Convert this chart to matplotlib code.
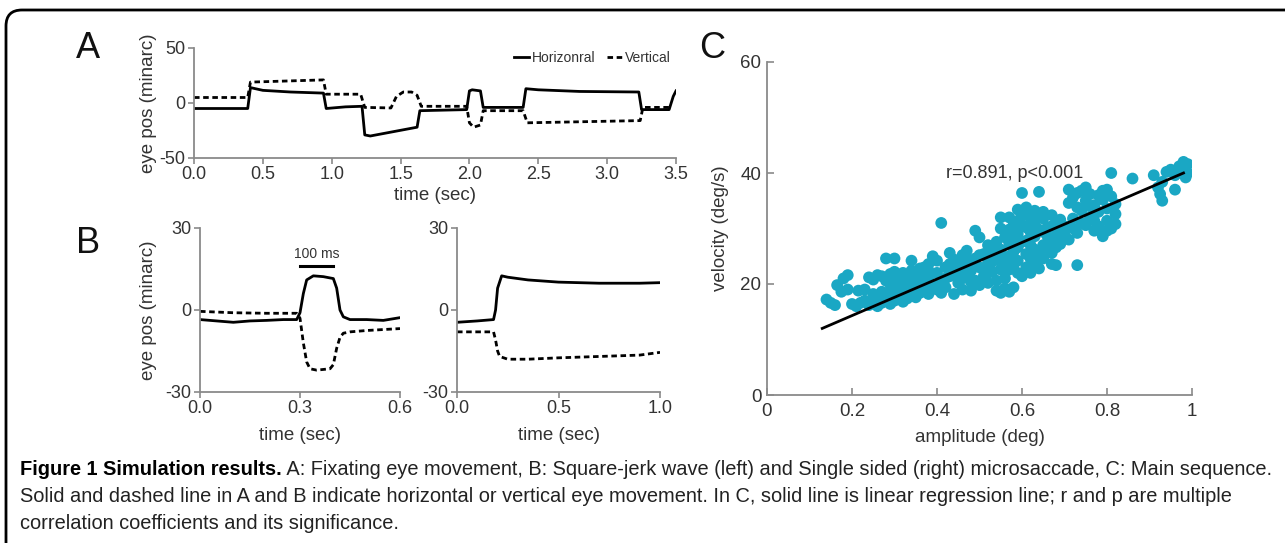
import matplotlib
matplotlib.use("Agg")
import matplotlib.pyplot as plt
from matplotlib.path import Path
from matplotlib.patches import PathPatch

# ---------------- data ----------------
# Panel A : fixating eye movement
a_h_t = [0, 0.39, 0.41, 0.50, 0.70, 0.94, 0.96, 1.10, 1.22, 1.24, 1.28, 1.45, 1.62, 1.64, 1.98,
         2.00, 2.02, 2.08, 2.10, 2.39, 2.41, 2.50, 2.80, 3.23, 3.25, 3.45, 3.48, 3.50]
a_h_v = [-5, -5, 14, 11.5, 10, 9, -5, -3.5, -3, -29, -30, -26, -22, -7, -6,
         11, 12, 11, -4, -4, 13, 12, 10.5, 10, -6, -6, 6, 11]
a_v_t = [0, 0.39, 0.41, 0.94, 0.96, 1.21, 1.24, 1.43, 1.47, 1.52, 1.58, 1.62, 1.65, 1.98,
         2.00, 2.03, 2.08, 2.10, 2.39, 2.42, 3.24, 3.26, 3.45]
a_v_v = [5, 5, 19, 21, 8, 8, -4, -4.5, 6, 10, 10, 7, -3, -3,
         -18, -22, -20, -7, -7, -18, -16, -4, -4]

# Panel B left : square-jerk wave
bl_h_t = [0, 0.05, 0.10, 0.15, 0.20, 0.25, 0.29, 0.30, 0.31, 0.32, 0.34, 0.37, 0.40, 0.41,
          0.42, 0.43, 0.45, 0.50, 0.55, 0.60]
bl_h_v = [-3.5, -4, -4.5, -4, -3.8, -3.5, -3.5, -1, 6, 11, 12.5, 12.2, 11.5, 8,
          0, -2.5, -3.5, -3.5, -3.8, -2.8]
bl_v_t = [0, 0.10, 0.20, 0.29, 0.30, 0.31, 0.32, 0.33, 0.35, 0.39, 0.40, 0.41, 0.42, 0.43,
          0.45, 0.50, 0.60]
bl_v_v = [-0.5, -1, -1.2, -1.2, -3, -12, -19, -21.5, -22, -21.5, -20, -14, -10, -8.5,
          -8, -7.5, -6.8]

# Panel B right : single sided microsaccade
br_h_t = [0, 0.10, 0.18, 0.19, 0.20, 0.22, 0.25, 0.35, 0.50, 0.70, 0.90, 1.00]
br_h_v = [-4.5, -4, -3.5, 0, 8, 12.5, 12, 11, 10.2, 9.8, 9.8, 10]
br_v_t = [0, 0.18, 0.19, 0.20, 0.21, 0.25, 0.35, 0.50, 0.70, 0.90, 1.00]
br_v_v = [-8, -8, -11, -15, -17, -18, -18, -17.5, -17, -16.5, -15.5]

# Panel C : main sequence (amplitude, velocity)
c_pts = [
    (0.14, 17.2), (0.15, 16.6), (0.16, 16.2), (0.165, 19.8), (0.18, 21.0), (0.19, 21.6),
    (0.175, 18.6), (0.19, 19.0), (0.20, 16.4), (0.21, 16.0), (0.215, 18.8), (0.22, 16.6),
    (0.23, 17.0), (0.23, 19.0),
    (0.24, 16.2), (0.25, 16.8), (0.26, 16.0), (0.27, 16.6), (0.28, 17.2), (0.29, 16.4),
    (0.30, 17.0), (0.31, 17.6), (0.32, 16.8), (0.33, 17.4), (0.34, 18.0), (0.35, 17.6),
    (0.36, 18.4), (0.25, 18.2), (0.27, 18.6), (0.29, 18.8), (0.31, 19.0), (0.33, 19.4),
    (0.35, 19.6), (0.37, 19.0), (0.38, 18.2), (0.26, 17.6), (0.28, 18.0), (0.30, 18.2),
    (0.32, 18.4),
    (0.24, 21.2), (0.25, 20.8), (0.26, 21.6), (0.27, 21.4), (0.28, 20.6), (0.29, 21.8),
    (0.30, 22.2), (0.31, 21.0), (0.32, 22.0), (0.33, 21.4), (0.34, 22.4), (0.35, 21.6),
    (0.36, 22.8), (0.28, 24.6), (0.30, 24.6), (0.34, 24.2), (0.30, 20.2), (0.33, 20.4),
    (0.36, 20.6),
    (0.37, 21.0), (0.38, 22.4), (0.38, 23.6), (0.39, 25.0), (0.40, 24.2), (0.40, 22.0),
    (0.41, 20.4), (0.41, 18.4), (0.42, 19.4), (0.42, 23.0), (0.43, 25.6), (0.43, 21.4),
    (0.44, 18.2), (0.44, 24.4), (0.45, 22.6), (0.45, 20.2), (0.46, 25.2), (0.46, 19.0),
    (0.47, 23.6), (0.47, 21.6), (0.47, 26.0), (0.48, 18.8), (0.48, 22.4), (0.49, 24.6),
    (0.49, 20.6), (0.50, 23.0), (0.50, 19.8), (0.41, 31.0), (0.49, 29.6), (0.50, 28.4),
    (0.39, 20.0), (0.40, 19.0), (0.37, 23.0), (0.45, 24.2), (0.43, 23.6),
    (0.51, 21.4), (0.51, 25.4), (0.52, 20.2), (0.52, 23.8), (0.52, 27.0), (0.53, 22.2),
    (0.53, 25.8), (0.54, 20.6), (0.54, 24.4), (0.54, 27.6), (0.55, 22.6), (0.55, 26.2),
    (0.55, 30.0), (0.55, 32.0), (0.56, 24.0), (0.56, 28.4), (0.54, 18.8), (0.55, 18.4),
    (0.56, 19.2), (0.57, 18.6), (0.58, 19.4), (0.56, 21.0),
    (0.57, 22.6), (0.57, 25.0), (0.57, 27.4), (0.57, 29.8), (0.57, 32.0),
    (0.59, 22.0), (0.59, 24.2), (0.59, 26.6), (0.59, 29.0), (0.59, 31.4), (0.59, 33.4),
    (0.61, 23.0), (0.61, 25.4), (0.61, 27.8), (0.61, 30.2), (0.61, 32.6), (0.61, 33.8),
    (0.63, 23.8), (0.63, 26.2), (0.63, 28.6), (0.63, 31.0), (0.63, 33.2),
    (0.65, 24.6), (0.65, 27.0), (0.65, 29.4), (0.65, 31.8), (0.65, 33.0),
    (0.67, 25.6), (0.67, 28.0), (0.67, 30.4), (0.67, 32.4),
    (0.69, 27.2), (0.69, 29.6), (0.69, 31.6),
    (0.58, 28.2), (0.60, 30.6), (0.62, 24.6), (0.64, 29.8), (0.66, 26.4), (0.68, 30.8),
    (0.60, 21.4), (0.62, 22.0), (0.64, 22.8),
    (0.60, 36.4), (0.64, 36.6), (0.67, 23.6), (0.68, 23.4), (0.73, 23.4),
    (0.71, 37.0), (0.71, 34.6), (0.72, 35.6), (0.73, 33.8), (0.74, 36.8), (0.75, 37.4),
    (0.75, 35.0), (0.76, 36.2), (0.77, 34.2), (0.78, 36.0), (0.79, 35.2), (0.80, 37.0),
    (0.80, 33.6), (0.81, 35.8), (0.82, 34.4), (0.81, 40.0), (0.86, 39.0),
    (0.71, 28.0), (0.72, 30.0), (0.72, 31.8), (0.73, 29.2), (0.74, 31.0), (0.75, 30.6),
    (0.76, 32.0), (0.77, 29.6), (0.78, 30.4), (0.79, 28.6), (0.80, 31.4), (0.81, 30.0),
    (0.82, 30.8), (0.82, 32.6), (0.78, 33.0), (0.74, 33.2),
    (0.91, 39.6), (0.92, 37.4), (0.925, 36.2), (0.93, 35.0), (0.94, 40.2), (0.95, 40.6),
    (0.96, 37.0), (0.97, 41.2), (0.98, 42.0), (0.99, 41.6), (0.99, 40.0), (0.985, 39.2),
    (0.975, 40.4), (0.93, 38.4), (0.96, 39.6),
    # extra points filling the dense core of the cloud
    (0.38, 20.8), (0.42, 21.0), (0.44, 22.0), (0.46, 23.0), (0.48, 24.2), (0.50, 25.2),
    (0.52, 22.0), (0.53, 24.0), (0.55, 24.6), (0.58, 23.4), (0.58, 25.8), (0.58, 30.6),
    (0.60, 27.6), (0.60, 32.4), (0.62, 29.4), (0.62, 31.8), (0.62, 27.0), (0.64, 25.4),
    (0.64, 32.0), (0.66, 30.2), (0.66, 28.6), (0.68, 26.6), (0.68, 28.6), (0.70, 30.4),
    (0.70, 28.8), (0.73, 36.4), (0.76, 34.0), (0.79, 36.8), (0.77, 31.4), (0.80, 29.6),
    (0.34, 20.4), (0.32, 20.0), (0.29, 20.0), (0.36, 19.2), (0.46, 21.0), (0.48, 20.4),
]
c_amp = [p[0] for p in c_pts]
c_vel = [p[1] for p in c_pts]
reg_x = [0.13, 0.98]
reg_y = [12.0, 40.0]

a_xticks = [0.0, 0.5, 1.0, 1.5, 2.0, 2.5, 3.0, 3.5]
a_yticks = [-50, 0, 50]
bl_xticks = [0.0, 0.3, 0.6]
br_xticks = [0.0, 0.5, 1.0]
b_yticks = [-30, 0, 30]
c_xticks = [0, 0.2, 0.4, 0.6, 0.8, 1]
c_yticks = [0, 20, 40, 60]

caption_bold = "Figure 1 Simulation results."
caption_l1 = (" A: Fixating eye movement, B: Square-jerk wave (left) and Single sided (right) "
              "microsaccade, C: Main sequence.")
caption_l2 = ("Solid and dashed line in A and B indicate horizontal or vertical eye movement. "
              "In C, solid line is linear regression line; r and p are multiple")
caption_l3 = "correlation coefficients and its significance."

# ---------------- figure ----------------
W, H = 1288, 543
plt.rcParams["font.family"] = ["Liberation Sans", "DejaVu Sans"]
plt.rcParams["axes.unicode_minus"] = False
fig = plt.figure(figsize=(W / 100, H / 100), dpi=100)
fig.patch.set_facecolor("white")

SPINE = "#8a8a8a"
TXT = "#333333"
CYAN = "#1aa7c4"


def px_axes(left, right, top, bottom):
    return fig.add_axes([left / W, 1 - bottom / H, (right - left) / W, (bottom - top) / H])


def style(ax, fs=13):
    for s in ["top", "right"]:
        ax.spines[s].set_visible(False)
    for s in ["left", "bottom"]:
        ax.spines[s].set_color(SPINE)
        ax.spines[s].set_linewidth(1.3)
    ax.tick_params(colors=SPINE, labelcolor=TXT, length=4, width=1.2, labelsize=fs, pad=2)


LW = 2.0
DASH = (0, (2.0, 1.3))

# Panel A
axA = px_axes(194, 676, 48, 158)
axA.plot(a_h_t, a_h_v, color="black", lw=LW, label="Horizonral")
axA.plot(a_v_t, a_v_v, color="black", lw=LW, ls=DASH, label="Vertical")
axA.set_xlim(0, 3.5)
axA.set_ylim(-50, 50)
axA.set_xticks(a_xticks)
axA.set_xticklabels([f"{t:.1f}" for t in a_xticks])
axA.set_yticks(a_yticks)
style(axA)
axA.set_xlabel("time (sec)", fontsize=13.5, color=TXT, labelpad=3)
axA.set_ylabel("eye pos (minarc)", fontsize=13.5, color=TXT, labelpad=2)
leg = axA.legend(loc="upper right", ncol=2, frameon=False, fontsize=10,
                 handlelength=1.1, handletextpad=0.2, columnspacing=0.8,
                 bbox_to_anchor=(1.0, 1.02), borderaxespad=0)
for t in leg.get_texts():
    t.set_color(TXT)

# Panel B left
axBL = px_axes(200, 400, 228, 392)
axBL.plot(bl_h_t, bl_h_v, color="black", lw=LW)
axBL.plot(bl_v_t, bl_v_v, color="black", lw=LW, ls=DASH)
axBL.plot([0.3, 0.4], [16, 16], color="black", lw=2.2)
axBL.text(0.35, 18, "100 ms", ha="center", va="bottom", fontsize=10, color=TXT)
axBL.set_xlim(0, 0.6)
axBL.set_ylim(-30, 30)
axBL.set_xticks(bl_xticks)
axBL.set_xticklabels([f"{t:.1f}" for t in bl_xticks])
axBL.set_yticks(b_yticks)
style(axBL)
axBL.set_xlabel("time (sec)", fontsize=13.5, color=TXT, labelpad=7)
axBL.set_ylabel("eye pos (minarc)", fontsize=13.5, color=TXT, labelpad=6)

# Panel B right
axBR = px_axes(457, 660, 228, 392)
axBR.plot(br_h_t, br_h_v, color="black", lw=LW)
axBR.plot(br_v_t, br_v_v, color="black", lw=LW, ls=DASH)
axBR.set_xlim(0, 1.0)
axBR.set_ylim(-30, 30)
axBR.set_xticks(br_xticks)
axBR.set_xticklabels([f"{t:.1f}" for t in br_xticks])
axBR.set_yticks(b_yticks)
style(axBR)
axBR.set_xlabel("time (sec)", fontsize=13.5, color=TXT, labelpad=7)

# Panel C
axC = px_axes(767, 1192, 62, 395)
axC.scatter(c_amp, c_vel, s=72, color=CYAN, edgecolors="none", zorder=2)
axC.plot(reg_x, reg_y, color="black", lw=2.0, zorder=3)
axC.text(0.42, 40, "r=0.891, p<0.001", fontsize=13, color=TXT, va="center", ha="left")
axC.set_xlim(0, 1)
axC.set_ylim(0, 60)
axC.set_xticks(c_xticks)
axC.set_xticklabels(["0", "0.2", "0.4", "0.6", "0.8", "1"])
axC.set_yticks(c_yticks)
style(axC, fs=13.5)
axC.tick_params(axis="both", direction="in", length=5)
axC.tick_params(axis="x", pad=6)
axC.tick_params(axis="y", pad=4)
axC.set_xlabel("amplitude (deg)", fontsize=13.5, color=TXT, labelpad=6)
axC.set_ylabel("velocity (deg/s)", fontsize=13.5, color=TXT, labelpad=8)

# Panel letters
for letter, x, y in [("A", 88, 48), ("B", 88, 243), ("C", 712, 48)]:
    fig.text(x / W, 1 - y / H, letter, fontsize=26, ha="center", va="center",
             color="#111111", fontweight="light")

# Border (rounded top-left corner)
r = 16
x0, y0, x1 = 6, 10, 1285
verts = [(x0, H + 5), (x0, y0 + r), (x0, y0), (x0 + r, y0), (x1, y0)]
codes = [Path.MOVETO, Path.LINETO, Path.CURVE3, Path.CURVE3, Path.LINETO]
verts = [(vx / W, 1 - vy / H) for vx, vy in verts]
fig.patches.append(PathPatch(Path(verts, codes), fill=False, lw=2.0, edgecolor="black",
                             transform=fig.transFigure, figure=fig))

# Caption
CAP_FS = 14.4
renderer = fig.canvas.get_renderer()
tb = fig.text(20 / W, 1 - 475 / H, caption_bold, fontsize=CAP_FS, fontweight="bold",
              color="black", va="baseline")
bb = tb.get_window_extent(renderer=renderer)
fig.text(bb.x1 / W, 1 - 475 / H, caption_l1, fontsize=CAP_FS,
         color="#222222", va="baseline")
fig.text(20 / W, 1 - 502 / H, caption_l2, fontsize=CAP_FS,
         color="#222222", va="baseline")
fig.text(20 / W, 1 - 529 / H, caption_l3, fontsize=CAP_FS,
         color="#222222", va="baseline")

fig.savefig("out.png", dpi=100, facecolor="white")
